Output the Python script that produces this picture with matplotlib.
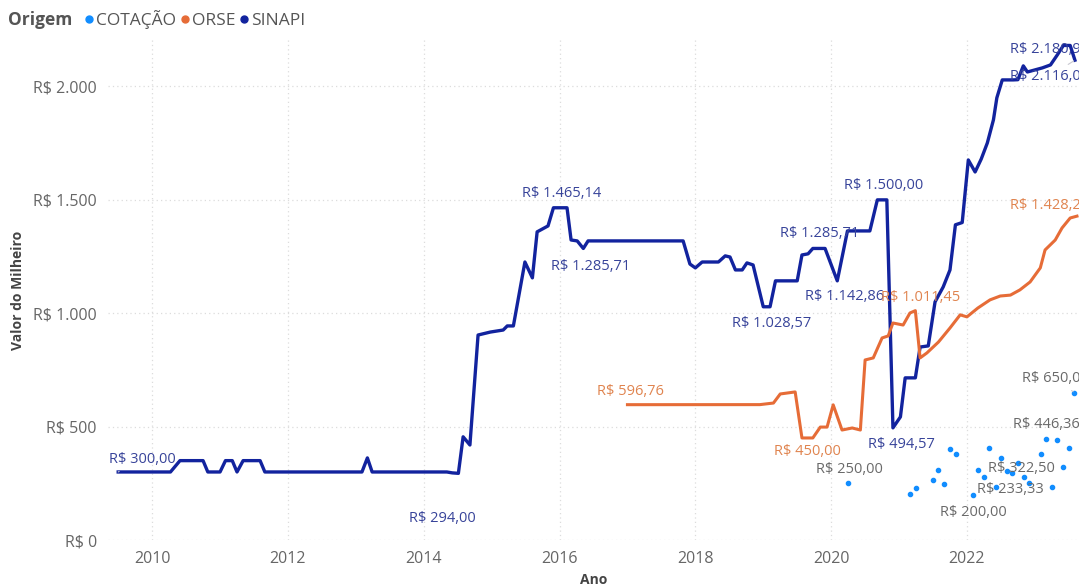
import matplotlib
matplotlib.use("Agg")
import matplotlib.pyplot as plt
from matplotlib.lines import Line2D

plt.rcParams['font.family'] = ['Open Sans', 'DejaVu Sans']

# cores padrao do Power BI
c_cot = '#118DFF'
c_orse = '#E66C37'
c_sinapi = '#12239E'

# SINAPI (ano decimal, valor do milheiro)
sinapi_ano = [2009.50, 2010.27, 2010.41, 2010.75, 2010.82, 2011.00, 2011.08, 2011.18, 2011.25,
              2011.34, 2011.59, 2011.66, 2013.09, 2013.17, 2013.24, 2014.34, 2014.42, 2014.51,
              2014.58, 2014.68, 2014.80, 2014.98, 2015.17, 2015.23, 2015.32, 2015.49, 2015.60,
              2015.67, 2015.83, 2015.91, 2016.11, 2016.17, 2016.26, 2016.35, 2016.42, 2017.82,
              2017.92, 2018.00, 2018.10, 2018.34, 2018.44, 2018.51, 2018.59, 2018.69, 2018.76,
              2018.85, 2019.00, 2019.10, 2019.18, 2019.50, 2019.57, 2019.66, 2019.73, 2019.91,
              2020.09, 2020.24, 2020.57, 2020.68, 2020.82, 2020.91, 2021.02, 2021.09, 2021.24,
              2021.31, 2021.43, 2021.53, 2021.65, 2021.75, 2021.83, 2021.93, 2022.02, 2022.12,
              2022.21, 2022.30, 2022.39, 2022.44, 2022.52, 2022.68, 2022.75, 2022.83, 2022.89,
              2023.00, 2023.11, 2023.23, 2023.33, 2023.42, 2023.52, 2023.59]
sinapi_val = [300, 300, 350, 350, 300, 300, 350, 350, 300,
              350, 350, 300, 300, 362, 300, 300, 296, 294,
              455, 419, 904, 917, 926, 944, 944, 1226, 1156,
              1359, 1385, 1465.14, 1465.14, 1323, 1319, 1285.71, 1319, 1319,
              1217, 1200, 1226, 1226, 1253, 1248, 1191, 1191, 1222,
              1213, 1028.57, 1028.57, 1142.86, 1142.86, 1257, 1262, 1285.71, 1285.71,
              1142.86, 1363, 1363, 1500, 1500, 494.57, 543, 715, 715,
              851, 856, 1050, 1116, 1191, 1390, 1400, 1676, 1623,
              1680, 1751, 1853, 1950, 2029, 2029, 2030, 2091, 2064,
              2073, 2082, 2095, 2139, 2180.97, 2180.97, 2116]

# ORSE
orse_ano = [2017.00, 2018.95, 2019.15, 2019.25, 2019.47, 2019.57, 2019.73, 2019.84, 2019.94,
            2020.03, 2020.16, 2020.31, 2020.43, 2020.50, 2020.62, 2020.75, 2020.84, 2020.91,
            2021.06, 2021.16, 2021.24, 2021.31, 2021.41, 2021.58, 2021.75, 2021.90, 2022.00,
            2022.16, 2022.34, 2022.49, 2022.64, 2022.78, 2022.93, 2023.08, 2023.15, 2023.30,
            2023.40, 2023.52, 2023.62]
orse_val = [596.76, 597, 604, 644, 653, 450, 450, 498, 498,
            596, 485, 494, 485, 794, 803, 891, 900, 957,
            948, 1001, 1011.45, 803, 825, 873, 935, 993, 984,
            1023, 1059, 1076, 1080, 1103, 1138, 1200, 1279, 1323,
            1376, 1420, 1428.27]

# COTACAO
cot_ano = [2020.25, 2021.16, 2021.25, 2021.50, 2021.58, 2021.66, 2021.75, 2021.84, 2022.09,
           2022.16, 2022.25, 2022.33, 2022.43, 2022.50, 2022.59, 2022.67, 2022.75, 2022.84,
           2022.92, 2023.09, 2023.17, 2023.25, 2023.33, 2023.42, 2023.51, 2023.58]
cot_val = [250, 203, 229, 265, 309, 247, 401, 379, 200,
           309, 278, 406, 233.33, 362, 304, 296, 340, 278,
           251, 379, 446.36, 233, 441, 322.50, 406, 650]

# rotulos: (indice do ponto, texto, dx, dy, ha, linha guia)
sinapi_rot = [(0, 'R$ 300,00', 24, 12, 'center', True),
              (17, 'R$ 294,00', -16, -45, 'center', False),
              (29, 'R$ 1.465,14', 8, 14, 'center', False),
              (33, 'R$ 1.285,71', 7, -18, 'center', False),
              (46, 'R$ 1.028,57', 8, -17, 'center', False),
              (54, 'R$ 1.142,86', 7, -16, 'center', False),
              (53, 'R$ 1.285,71', -5, 15, 'center', False),
              (58, 'R$ 1.500,00', -3, 14, 'center', False),
              (59, 'R$ 494,57', 8, -17, 'center', False),
              (85, 'R$ 2.180,97', -53, -4, 'left', False),
              (87, 'R$ 2.116,00', -65, -16, 'left', True)]
orse_rot = [(0, 'R$ 596,76', 3, 13, 'center', False),
            (6, 'R$ 450,00', -5, -14, 'center', False),
            (20, 'R$ 1.011,45', 5, 13, 'center', False),
            (38, 'R$ 1.428,27', -67, 11, 'left', False)]
cot_rot = [(0, 'R$ 250,00', 1, 14, 'center', False),
           (8, 'R$ 200,00', 0, -18, 'center', False),
           (12, 'R$ 233,33', 14, -2, 'center', False),
           (23, 'R$ 322,50', -42, -2, 'center', False),
           (20, 'R$ 446,36', 0, 14, 'center', False),
           (25, 'R$ 650,00', -52, 14, 'left', True)]

fig = plt.figure(figsize=(10.79, 5.87), dpi=100)
ax = fig.add_axes([108/1079, 47/587, 971/1079, 500/587])

ax.plot(sinapi_ano, sinapi_val, color=c_sinapi, lw=2.4, solid_joinstyle='round', zorder=3)
ax.plot(orse_ano, orse_val, color=c_orse, lw=2.2, solid_joinstyle='round', zorder=3)
ax.scatter(cot_ano, cot_val, color=c_cot, s=9, zorder=4)

def rotular(anos, vals, rots, cor):
    for i, txt, dx, dy, ha, guia in rots:
        ax.annotate(txt, (anos[i], vals[i]), textcoords='offset pixels', xytext=(dx, dy),
                    ha=ha, va='center', fontsize=10.5, color=cor, zorder=5,
                    arrowprops=dict(arrowstyle='-', color='#C8C8D0', lw=0.8,
                                    shrinkA=2, shrinkB=1) if guia else None)

rotular(sinapi_ano, sinapi_val, sinapi_rot, '#38449A')
rotular(orse_ano, orse_val, orse_rot, '#E0844F')
rotular(cot_ano, cot_val, cot_rot, '#6A6A6A')

ax.set_xlim(2009.35, 2023.65)
ax.set_ylim(0, 2205)
ax.set_xticks([2010, 2012, 2014, 2016, 2018, 2020, 2022])
ax.set_yticks([0, 500, 1000, 1500, 2000])
ax.set_yticklabels(['R$ 0', 'R$ 500', 'R$ 1.000', 'R$ 1.500', 'R$ 2.000'])
ax.tick_params(length=0, labelsize=11.5, labelcolor='#666666', pad=8)
ax.grid(True, color='#DCDCDC', linestyle=(0, (1, 2.5)), lw=0.9)
ax.set_axisbelow(True)
for s in ax.spines.values():
    s.set_visible(False)

ax.set_xlabel('Ano', fontsize=10, fontweight='bold', color='#444444', labelpad=4)
ax.set_ylabel('Valor do Milheiro', fontsize=10, fontweight='bold', color='#444444')
ax.yaxis.set_label_coords((25 - 108) / 971, 0.5)

# legenda
fig.text(8/1079, 1 - 20/587, 'Origem', fontsize=12.5, fontweight='bold', color='#555555', va='center')
handles = [Line2D([], [], ls='', marker='o', ms=5, color=c) for c in (c_cot, c_orse, c_sinapi)]
leg = fig.legend(handles, ['COTAÇÃO', 'ORSE', 'SINAPI'], loc='center left',
                 bbox_to_anchor=(77/1079, 1 - 20/587), ncol=3, frameon=False, fontsize=12.5,
                 handlelength=0.4, handletextpad=0.2, columnspacing=0.3, borderpad=0)
for t in leg.get_texts():
    t.set_color('#555555')

fig.savefig('out.png', dpi=100)
